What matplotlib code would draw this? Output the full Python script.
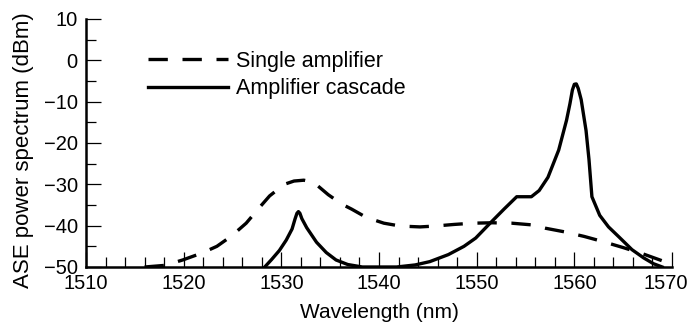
import numpy as np
import matplotlib
matplotlib.use('Agg')
import matplotlib.pyplot as plt
from matplotlib.transforms import ScaledTranslation

plt.rcParams['font.family'] = ['Liberation Sans', 'DejaVu Sans']

# single amplifier ASE spectrum (nm, dBm)
single_wl = [1516.0, 1518.1, 1519.9, 1521.9, 1523.4, 1524.9, 1526.4, 1527.8, 1528.8,
             1530.3, 1531.3, 1532.3, 1533.3, 1534.8, 1536.2, 1537.2, 1538.7, 1540.5,
             1542.2, 1544.2, 1545.7, 1547.7, 1549.6, 1551.6, 1553.6, 1555.6, 1557.0,
             1559.0, 1561.0, 1563.0, 1565.0, 1567.0, 1569.0]
single_db = [-50.0, -49.6, -48.3, -46.6, -45.0, -42.5, -39.4, -35.5, -32.8,
             -30.0, -29.2, -29.0, -29.5, -32.5, -34.8, -36.0, -38.0, -39.4,
             -40.1, -40.3, -40.1, -39.7, -39.4, -39.3, -39.4, -39.8, -40.6,
             -41.5, -42.6, -43.9, -45.3, -46.8, -48.5]

# amplifier cascade ASE spectrum (nm, dBm)
cascade_wl = [1528.3, 1529.0, 1529.8, 1530.5, 1531.1, 1531.4, 1531.6, 1531.75, 1531.9,
              1532.1, 1532.6, 1533.6, 1534.6, 1535.6, 1536.8, 1538.3, 1541.8, 1543.7,
              1545.2, 1547.1, 1548.7, 1549.9, 1551.5, 1552.8, 1554.1, 1555.6, 1556.4,
              1557.3, 1558.4, 1559.2, 1559.55, 1559.8, 1560.0, 1560.2, 1560.4, 1560.7,
              1561.2, 1561.5, 1561.8, 1562.6, 1563.5, 1564.6, 1565.9, 1567.1, 1568.1,
              1569.0]
cascade_db = [-50.0, -48.2, -46.0, -43.5, -40.8, -38.4, -37.0, -36.6, -37.0,
              -38.3, -40.5, -44.0, -46.5, -48.3, -49.4, -50.0, -50.0, -49.5,
              -48.7, -47.0, -45.0, -43.0, -39.1, -36.0, -33.0, -33.0, -31.5,
              -28.3, -21.7, -14.5, -10.5, -7.2, -5.8, -5.7, -6.8, -9.5,
              -17.0, -24.0, -33.0, -37.5, -40.3, -42.8, -45.8, -47.8, -49.2,
              -50.0]

fig = plt.figure(figsize=(6.93, 3.24), dpi=100)
ax = fig.add_axes([86 / 693, 57 / 324, 586 / 693, 248 / 324])

ax.plot(single_wl, single_db, color='k', lw=2.4, dashes=(5.8, 4.4),
        label='Single amplifier', dash_capstyle='butt')
ax.plot(cascade_wl, cascade_db, color='k', lw=2.4, label='Amplifier cascade',
        solid_joinstyle='round')

ax.set_xlim(1510, 1570)
ax.set_ylim(-50, 10)
ax.set_xticks(np.arange(1510, 1571, 10))
ax.set_xticks(np.arange(1510, 1571, 2), minor=True)
ax.set_yticks(np.arange(-50, 11, 10))
ax.set_yticks(np.arange(-50, 11, 5), minor=True)

for side in ['top', 'right']:
    ax.spines[side].set_visible(False)
for side in ['left', 'bottom']:
    ax.spines[side].set_linewidth(1.8)

ax.tick_params(which='both', direction='in', width=0.9, labelsize=14.5)
ax.tick_params(which='major', length=10.5, pad=5)
ax.tick_params(which='minor', length=7.2)
ax.tick_params(axis='y', which='major', pad=6)

# pull the last x label in so it stays inside the figure
last = ax.get_xticklabels()[-1]
last.set_transform(last.get_transform() + ScaledTranslation(-6 / 100, 0, fig.dpi_scale_trans))

ax.set_xlabel('Wavelength (nm)', fontsize=15, labelpad=7)
ax.set_ylabel('ASE power spectrum (dBm)', fontsize=16)
ax.yaxis.set_label_coords(-0.088, 0.472)

ax.legend(loc='upper left', bbox_to_anchor=(148 / 693, 1 - 51 / 324),
          bbox_transform=fig.transFigure, frameon=False, fontsize=15.5,
          handlelength=3.7, handletextpad=0.4, labelspacing=0.3,
          borderpad=0, borderaxespad=0)

plt.savefig('out.png', dpi=100)
